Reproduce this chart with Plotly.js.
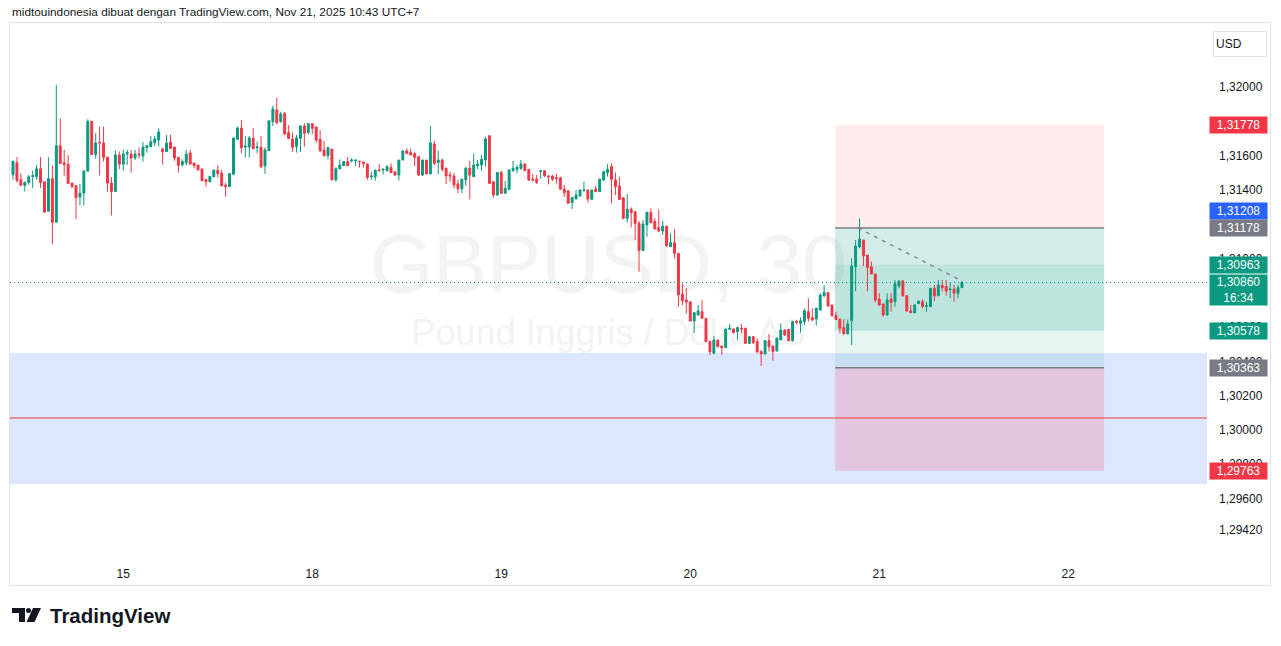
<!DOCTYPE html>
<html>
<head>
<meta charset="utf-8">
<script src="https://cdn.plot.ly/plotly-3.0.1.min.js"></script>
<style>html,body{margin:0;padding:0;background:#fff;}#chart{width:1281px;height:646px;}</style>
</head>
<body>
<div id="chart"></div>
<script>
// ---- DATA: GBPUSD 30m candles (Nov 14 10:00 -> Nov 21 10:30, UTC+7) ----
const open = [1.31488,1.31558,1.31459,1.31426,1.31443,1.31478,1.31478,1.31523,1.31447,1.31275,1.31465,1.31211,1.31657,1.31558,1.31548,1.31440,1.31424,1.31358,1.31381,1.31509,1.31800,1.31606,1.31676,1.31674,1.31591,1.31440,1.31391,1.31603,1.31550,1.31610,
1.31609,1.31586,1.31609,1.31598,1.31646,1.31652,1.31675,1.31691,1.31638,1.31623,1.31679,1.31650,1.31590,1.31547,1.31559,1.31615,1.31557,1.31545,1.31522,1.31460,1.31448,1.31477,1.31514,1.31497,1.31428,1.31419,1.31491,1.31695,1.31761,1.31650,
1.31650,1.31701,1.31646,1.31648,1.31539,1.31629,1.31798,1.31866,1.31798,1.31846,1.31734,1.31697,1.31652,1.31701,1.31773,1.31734,1.31786,1.31767,1.31695,1.31633,1.31600,1.31638,1.31458,1.31522,1.31541,1.31565,1.31568,1.31570,1.31568,1.31563,
1.31551,1.31477,1.31477,1.31516,1.31516,1.31512,1.31532,1.31506,1.31487,1.31574,1.31627,1.31619,1.31611,1.31594,1.31487,1.31574,1.31493,1.31668,1.31559,1.31574,1.31526,1.31487,1.31481,1.31434,1.31407,1.31458,1.31526,1.31477,1.31541,1.31545,
1.31574,1.31716,1.31448,1.31370,1.31501,1.31380,1.31403,1.31512,1.31520,1.31526,1.31551,1.31520,1.31462,1.31462,1.31508,1.31512,1.31481,1.31481,1.31471,1.31471,1.31405,1.31395,1.31326,1.31347,1.31364,1.31395,1.31399,1.31345,1.31405,1.31390,
1.31458,1.31501,1.31536,1.31458,1.31423,1.31355,1.31234,1.31287,1.31273,1.31205,1.31046,1.31195,1.31269,1.31215,1.31180,1.31160,1.31189,1.31069,1.31092,1.31030,1.30793,1.30758,1.30748,1.30635,1.30670,1.30690,1.30651,1.30515,1.30447,1.30524,
1.30490,1.30480,1.30587,1.30589,1.30573,1.30593,1.30593,1.30505,1.30544,1.30515,1.30457,1.30443,1.30521,1.30490,1.30461,1.30525,1.30583,1.30587,1.30521,1.30632,1.30622,1.30632,1.30690,1.30655,1.30647,1.30700,1.30783,1.30801,1.30729,1.30667,
1.30645,1.30597,1.30560,1.30637,1.30952,1.31069,1.31108,1.31020,1.30952,1.30910,1.30764,1.30735,1.30671,1.30764,1.30748,1.30840,1.30869,1.30783,1.30694,1.30684,1.30737,1.30748,1.30721,1.30719,1.30826,1.30783,1.30842,1.30836,1.30818,1.30822,
1.30797,1.30830];
const high = [1.31572,1.31591,1.31498,1.31445,1.31488,1.31513,1.31546,1.31591,1.31447,1.31591,1.31546,1.32012,1.31818,1.31634,1.31603,1.31440,1.31428,1.31436,1.31517,1.31812,1.31800,1.31731,1.31769,1.31769,1.31591,1.31474,1.31632,1.31624,1.31634,1.31634,
1.31633,1.31633,1.31648,1.31679,1.31662,1.31714,1.31714,1.31759,1.31646,1.31720,1.31720,1.31650,1.31590,1.31578,1.31633,1.31633,1.31557,1.31545,1.31522,1.31464,1.31479,1.31516,1.31543,1.31516,1.31442,1.31495,1.31703,1.31769,1.31808,1.31714,
1.31714,1.31759,1.31681,1.31714,1.31648,1.31808,1.31891,1.31938,1.31856,1.31854,1.31778,1.31734,1.31720,1.31773,1.31788,1.31790,1.31788,1.31767,1.31749,1.31685,1.31652,1.31638,1.31532,1.31578,1.31568,1.31592,1.31584,1.31574,1.31568,1.31563,
1.31551,1.31506,1.31516,1.31551,1.31526,1.31545,1.31555,1.31506,1.31574,1.31633,1.31642,1.31642,1.31619,1.31594,1.31578,1.31574,1.31773,1.31687,1.31629,1.31582,1.31530,1.31506,1.31497,1.31458,1.31462,1.31535,1.31570,1.31611,1.31574,1.31604,
1.31710,1.31716,1.31448,1.31501,1.31512,1.31452,1.31520,1.31569,1.31545,1.31574,1.31555,1.31520,1.31493,1.31487,1.31516,1.31512,1.31487,1.31487,1.31493,1.31477,1.31429,1.31395,1.31360,1.31399,1.31405,1.31448,1.31403,1.31403,1.31423,1.31465,
1.31512,1.31551,1.31555,1.31501,1.31477,1.31355,1.31376,1.31298,1.31273,1.31219,1.31224,1.31273,1.31292,1.31234,1.31287,1.31219,1.31189,1.31147,1.31170,1.31030,1.30855,1.30826,1.30748,1.30690,1.30729,1.30758,1.30651,1.30524,1.30548,1.30528,
1.30490,1.30589,1.30618,1.30593,1.30602,1.30618,1.30593,1.30548,1.30548,1.30534,1.30466,1.30525,1.30560,1.30490,1.30540,1.30622,1.30587,1.30587,1.30637,1.30641,1.30657,1.30709,1.30768,1.30709,1.30715,1.30797,1.30845,1.30801,1.30729,1.30690,
1.30651,1.30645,1.30645,1.31001,1.31108,1.31234,1.31108,1.31020,1.30982,1.30910,1.30797,1.30735,1.30797,1.30797,1.30875,1.30869,1.30875,1.30783,1.30729,1.30733,1.30752,1.30762,1.30748,1.30826,1.30846,1.30875,1.30875,1.30875,1.30861,1.30846,
1.30846,1.30869];
const low = [1.31459,1.31443,1.31426,1.31391,1.31430,1.31411,1.31459,1.31411,1.31265,1.31275,1.31083,1.31211,1.31554,1.31484,1.31438,1.31411,1.31230,1.31310,1.31310,1.31509,1.31606,1.31581,1.31484,1.31566,1.31391,1.31251,1.31391,1.31521,1.31513,1.31546,
1.31501,1.31574,1.31584,1.31565,1.31617,1.31652,1.31656,1.31652,1.31547,1.31623,1.31638,1.31570,1.31501,1.31535,1.31543,1.31547,1.31526,1.31516,1.31448,1.31419,1.31444,1.31473,1.31473,1.31423,1.31360,1.31419,1.31491,1.31691,1.31613,1.31588,
1.31588,1.31640,1.31613,1.31526,1.31493,1.31629,1.31773,1.31782,1.31792,1.31720,1.31699,1.31623,1.31617,1.31621,1.31652,1.31726,1.31726,1.31675,1.31619,1.31594,1.31578,1.31458,1.31448,1.31522,1.31541,1.31541,1.31561,1.31541,1.31530,1.31530,
1.31458,1.31458,1.31454,1.31512,1.31491,1.31506,1.31501,1.31481,1.31454,1.31574,1.31607,1.31604,1.31539,1.31481,1.31481,1.31493,1.31493,1.31545,1.31493,1.31506,1.31434,1.31448,1.31409,1.31380,1.31380,1.31423,1.31345,1.31477,1.31522,1.31512,
1.31535,1.31438,1.31355,1.31370,1.31380,1.31380,1.31399,1.31506,1.31497,1.31516,1.31512,1.31452,1.31448,1.31434,1.31464,1.31477,1.31432,1.31452,1.31438,1.31399,1.31360,1.31322,1.31289,1.31347,1.31364,1.31390,1.31326,1.31341,1.31390,1.31390,
1.31452,1.31477,1.31322,1.31370,1.31341,1.31228,1.31209,1.31182,1.31108,1.30923,1.31046,1.31127,1.31205,1.31172,1.31156,1.31137,1.31069,1.31069,1.31001,1.30719,1.30729,1.30680,1.30635,1.30567,1.30670,1.30651,1.30515,1.30437,1.30447,1.30482,
1.30437,1.30480,1.30583,1.30564,1.30525,1.30564,1.30505,1.30501,1.30501,1.30447,1.30373,1.30443,1.30457,1.30404,1.30457,1.30525,1.30548,1.30521,1.30515,1.30616,1.30567,1.30612,1.30632,1.30637,1.30608,1.30696,1.30774,1.30719,1.30661,1.30641,
1.30564,1.30560,1.30560,1.30496,1.30810,1.31060,1.30956,1.30807,1.30910,1.30744,1.30723,1.30661,1.30667,1.30690,1.30719,1.30826,1.30777,1.30690,1.30684,1.30680,1.30737,1.30709,1.30690,1.30719,1.30752,1.30783,1.30807,1.30783,1.30768,1.30748,
1.30768,1.30830];
const close = [1.31566,1.31455,1.31426,1.31445,1.31476,1.31482,1.31523,1.31443,1.31271,1.31465,1.31211,1.31657,1.31554,1.31548,1.31438,1.31420,1.31356,1.31381,1.31509,1.31800,1.31606,1.31674,1.31674,1.31589,1.31440,1.31391,1.31603,1.31550,1.31610,1.31618,
1.31586,1.31609,1.31605,1.31650,1.31658,1.31681,1.31697,1.31738,1.31623,1.31673,1.31642,1.31586,1.31543,1.31565,1.31609,1.31551,1.31541,1.31516,1.31454,1.31448,1.31479,1.31516,1.31495,1.31423,1.31419,1.31495,1.31703,1.31761,1.31646,1.31656,
1.31703,1.31640,1.31650,1.31535,1.31633,1.31802,1.31872,1.31792,1.31843,1.31726,1.31699,1.31648,1.31703,1.31773,1.31730,1.31786,1.31759,1.31691,1.31629,1.31600,1.31646,1.31458,1.31524,1.31545,1.31565,1.31541,1.31574,1.31574,1.31565,1.31553,
1.31473,1.31481,1.31516,1.31512,1.31520,1.31535,1.31501,1.31487,1.31574,1.31627,1.31613,1.31604,1.31590,1.31487,1.31574,1.31493,1.31675,1.31555,1.31574,1.31520,1.31481,1.31481,1.31429,1.31407,1.31462,1.31526,1.31487,1.31545,1.31551,1.31578,
1.31697,1.31438,1.31370,1.31501,1.31380,1.31409,1.31516,1.31526,1.31532,1.31551,1.31512,1.31458,1.31458,1.31444,1.31512,1.31481,1.31477,1.31462,1.31467,1.31405,1.31384,1.31322,1.31355,1.31370,1.31399,1.31399,1.31347,1.31399,1.31390,1.31462,
1.31506,1.31520,1.31462,1.31419,1.31345,1.31234,1.31287,1.31267,1.31205,1.31046,1.31201,1.31269,1.31209,1.31172,1.31160,1.31189,1.31073,1.31092,1.31030,1.30787,1.30754,1.30746,1.30635,1.30684,1.30694,1.30651,1.30515,1.30457,1.30524,1.30486,
1.30480,1.30589,1.30593,1.30569,1.30597,1.30589,1.30505,1.30544,1.30509,1.30457,1.30443,1.30521,1.30486,1.30457,1.30534,1.30583,1.30554,1.30521,1.30632,1.30628,1.30637,1.30696,1.30651,1.30641,1.30709,1.30787,1.30801,1.30723,1.30667,1.30645,
1.30593,1.30560,1.30618,1.30956,1.31073,1.31114,1.31015,1.30947,1.30910,1.30758,1.30729,1.30671,1.30758,1.30744,1.30853,1.30869,1.30783,1.30694,1.30684,1.30729,1.30752,1.30719,1.30725,1.30826,1.30781,1.30846,1.30830,1.30810,1.30822,1.30797,
1.30830,1.30860];

// time axis: bar index where each day label sits, and its label
const dayTickBar = [28, 76, 124, 172, 220, 268];
const dayLabels  = ['15', '18', '19', '20', '21', '22'];

// price axis ticks (those fully covered by price tags in the reference are not shown)
const priceTicks = [1.32, 1.318, 1.316, 1.314, 1.310, 1.306, 1.304, 1.302, 1.300, 1.298, 1.296, 1.2942];

// price tags on the axis
const tagPrices = [1.31778, 1.31208, 1.31178, 1.30963, 1.30860, 1.30578, 1.30363, 1.29763];
const tagColors = ['#F23645', '#2962FF', '#787B86', '#089981', '#089981', '#089981', '#787B86', '#F23645'];
const lastPrice = 1.30860;
const countdown = '16:34';

// drawings
const zoneTop = 1.30449, zoneBottom = 1.29685, redLevel = 1.30070;
const shortEntry = 1.31178, shortStop = 1.31778, shortTarget = 1.30578;
const longEntry = 1.30363, longStop = 1.29763, longTarget = 1.30963;
const toolFromBar = 208.8, toolToBar = 277.1;
const trendBars = [214.6, 240.5], trendPrices = [1.31178, 1.30875];

// ---- layout helpers (pixel <-> paper) ----
const PL = 10, PR = 1207, PT = 22, PB = 558;
const X = px => (px - PL) / (PR - PL);
const Y = py => (PB - py) / (PB - PT);
const fmt = p => p.toFixed(5).replace('.', ',');
const FONT = 'Liberation Sans, Arial, sans-serif';
const TXT = '#131722';

const xs = open.map((_, i) => i);

const trace = {
  type: 'candlestick', x: xs, open: open, high: high, low: low, close: close,
  increasing: {line: {color: '#089981', width: 1}, fillcolor: '#089981'},
  decreasing: {line: {color: '#F23645', width: 1}, fillcolor: '#F23645'},
  whiskerwidth: 0, hoverinfo: 'skip', showlegend: false
};

const shapes = [];
// watermark
shapes.push({type: 'rect', xref: 'paper', yref: 'paper', x0: 0, x1: 1, y0: Y(296), y1: Y(216), line: {width: 0}, fillcolor: 'rgba(0,0,0,0)', layer: 'below',
  label: {text: 'GBPUSD, 30', textposition: 'middle center', font: {family: FONT, size: 81, color: '#F3F3F4'}}});
shapes.push({type: 'rect', xref: 'paper', yref: 'paper', x0: 0, x1: 1, y0: Y(349), y1: Y(309), line: {width: 0}, fillcolor: 'rgba(0,0,0,0)', layer: 'below',
  label: {text: 'Pound Inggris / Dolar AS', textposition: 'middle center', font: {family: FONT, size: 36, color: '#F3F3F4'}}});
// blue zone
shapes.push({type: 'rect', xref: 'paper', yref: 'y', x0: 0, x1: 1, y0: zoneBottom, y1: zoneTop, line: {width: 0}, fillcolor: 'rgba(41,98,255,0.16)', layer: 'below'});
// position tools
shapes.push({type: 'rect', xref: 'x', yref: 'y', x0: toolFromBar, x1: toolToBar, y0: shortEntry, y1: shortStop, line: {width: 0}, fillcolor: 'rgba(242,54,69,0.10)', layer: 'below'});
shapes.push({type: 'rect', xref: 'x', yref: 'y', x0: toolFromBar, x1: toolToBar, y0: shortTarget, y1: shortEntry, line: {width: 0}, fillcolor: 'rgba(8,153,129,0.18)', layer: 'below'});
shapes.push({type: 'rect', xref: 'x', yref: 'y', x0: toolFromBar, x1: toolToBar, y0: longEntry, y1: longTarget, line: {width: 0}, fillcolor: 'rgba(8,153,129,0.10)', layer: 'below'});
shapes.push({type: 'rect', xref: 'x', yref: 'y', x0: toolFromBar, x1: toolToBar, y0: longStop, y1: longEntry, line: {width: 0}, fillcolor: 'rgba(242,54,69,0.18)', layer: 'below'});
// lines
shapes.push({type: 'line', xref: 'paper', yref: 'y', x0: 0, x1: 1, y0: redLevel, y1: redLevel, line: {color: '#F23645', width: 1}, layer: 'below'});
shapes.push({type: 'line', xref: 'x', yref: 'y', x0: toolFromBar, x1: toolToBar, y0: shortEntry, y1: shortEntry, line: {color: '#787B86', width: 1.5}});
shapes.push({type: 'line', xref: 'x', yref: 'y', x0: toolFromBar, x1: toolToBar, y0: longEntry, y1: longEntry, line: {color: '#787B86', width: 1.5}});
shapes.push({type: 'line', xref: 'x', yref: 'y', x0: trendBars[0], x1: trendBars[1], y0: trendPrices[0], y1: trendPrices[1], line: {color: 'rgba(120,123,134,0.85)', width: 1.5, dash: '4px,5px'}});
shapes.push({type: 'line', xref: 'paper', yref: 'y', x0: 0, x1: 1, y0: lastPrice, y1: lastPrice, line: {color: '#089981', width: 1, dash: '1px,3px'}});
// outer frame
shapes.push({type: 'rect', xref: 'paper', yref: 'paper', x0: X(9.5), x1: X(1270.5), y0: Y(585.5), y1: Y(22.5), line: {color: '#E0E3EB', width: 1}, fillcolor: 'rgba(0,0,0,0)'});
// TradingView logo
const path = pts => 'M' + pts.map(p => X(p[0]) + ',' + Y(p[1])).join(' L') + ' Z';
shapes.push({type: 'path', xref: 'paper', yref: 'paper', path: path([[12,608],[25,608],[25,622],[19,622],[19,613],[12,613]]), fillcolor: '#131722', line: {width: 0}});
shapes.push({type: 'circle', xref: 'paper', yref: 'paper', x0: X(26), x1: X(31), y0: Y(613), y1: Y(608), fillcolor: '#131722', line: {width: 0}});
shapes.push({type: 'path', xref: 'paper', yref: 'paper', path: path([[33,608],[41,608],[34.5,622],[26.5,622]]), fillcolor: '#131722', line: {width: 0}});

const annotations = [];
annotations.push({xref: 'paper', yref: 'paper', x: X(10), y: Y(12), xanchor: 'left', yanchor: 'middle', showarrow: false,
  text: 'midtouindonesia dibuat dengan TradingView.com, Nov 21, 2025 10:43 UTC+7', font: {family: FONT, size: 11.8, color: TXT}});
annotations.push({xref: 'paper', yref: 'paper', x: X(48), y: Y(615), xanchor: 'left', yanchor: 'middle', showarrow: false,
  text: '<b>TradingView</b>', font: {family: FONT, size: 20.5, color: TXT}});
annotations.push({xref: 'paper', yref: 'paper', x: X(1240), y: Y(44.5), xanchor: 'center', yanchor: 'middle', showarrow: false,
  text: 'USD', align: 'left', width: 48, height: 20, borderpad: 2, bordercolor: '#E0E3EB', borderwidth: 1, bgcolor: '#fff', font: {family: FONT, size: 12, color: TXT}});
tagPrices.forEach((p, k) => {
  const isLast = p === lastPrice;
  const a = {xref: 'paper', yref: 'y', x: X(1238.5), y: p, xanchor: 'center', yanchor: isLast ? 'top' : 'middle', showarrow: false,
    text: isLast ? fmt(p) + '<br>' + countdown : fmt(p), align: 'center',
    width: 55, height: isLast ? 28 : 14, borderpad: 1, bgcolor: tagColors[k], font: {family: FONT, size: 12, color: '#fff'}};
  if (isLast) a.yshift = 8.5;
  if (p === 1.31208) a.yshift = 12;
  annotations.push(a);
});

const layout = {
  width: 1281, height: 646, margin: {l: PL, r: 1281 - PR, t: PT, b: 646 - PB, pad: 0},
  paper_bgcolor: '#ffffff', plot_bgcolor: '#ffffff', showlegend: false, dragmode: false,
  xaxis: {range: [(PL - 13) / 3.9375, (PR - 13) / 3.9375], tickmode: 'array', tickvals: dayTickBar, ticktext: dayLabels,
    showgrid: false, zeroline: false, showline: false, ticks: '', ticklabelstandoff: 7,
    tickfont: {family: FONT, size: 12, color: TXT}, rangeslider: {visible: false}, fixedrange: true},
  yaxis: {side: 'right', range: [1.292536, 1.323790], tickmode: 'array', tickvals: priceTicks, ticktext: priceTicks.map(fmt),
    showgrid: false, zeroline: false, showline: false, ticks: '', ticklabelstandoff: 11,
    tickfont: {family: FONT, size: 12, color: TXT}, fixedrange: true},
  shapes: shapes, annotations: annotations
};

Plotly.newPlot('chart', [trace], layout, {displayModeBar: false, staticPlot: true});
</script>
</body>
</html>
